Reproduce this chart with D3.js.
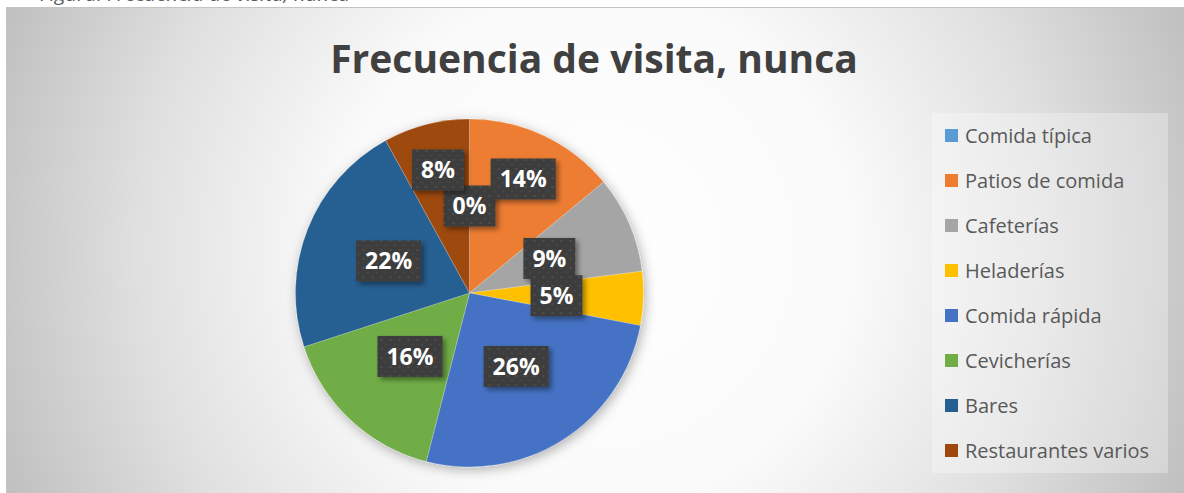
<!DOCTYPE html>
<html>
<head>
<meta charset="utf-8">
<script src="https://cdn.jsdelivr.net/npm/d3@7"></script>
<style>
  body { margin: 0; background: #fff; }
  svg { display: block; }
</style>
</head>
<body>
<div id="chart"></div>
<script>
// Datos del gráfico
const categorias = ["Comida típica", "Patios de comida", "Cafeterías", "Heladerías",
  "Comida rápida", "Cevicherías", "Bares", "Restaurantes varios"];
const valores = [0, 14, 9, 5, 26, 16, 22, 8];
const colores = ["#5B9BD5", "#ED7D31", "#A5A5A5", "#FFC000",
  "#4472C4", "#70AD47", "#255E91", "#9E480E"];
const titulo = "Frecuencia de visita, nunca";

const W = 1184, H = 493;
const cx = 469.5, cy = 293, R = 174;

const svg = d3.select("#chart").append("svg")
  .attr("width", W).attr("height", H);

const defs = svg.append("defs");

// Fondo con degradado radial
const grad = defs.append("radialGradient")
  .attr("id", "fondo")
  .attr("gradientUnits", "userSpaceOnUse")
  .attr("cx", 595).attr("cy", 250).attr("r", 650);
grad.append("stop").attr("offset", 0).attr("stop-color", "#ffffff");
grad.append("stop").attr("offset", 0.4).attr("stop-color", "#fafafa");
grad.append("stop").attr("offset", 0.7).attr("stop-color", "#e0e0e0");
grad.append("stop").attr("offset", 1).attr("stop-color", "#bdbdbd");

// Sombra del pastel
const sombra = defs.append("filter").attr("id", "sombra")
  .attr("x", "-20%").attr("y", "-20%").attr("width", "140%").attr("height", "140%");
sombra.append("feDropShadow").attr("dx", 2).attr("dy", 3)
  .attr("stdDeviation", 6).attr("flood-color", "#000").attr("flood-opacity", 0.3);

// Sombra de las etiquetas
const sombraEt = defs.append("filter").attr("id", "sombraEt")
  .attr("x", "-30%").attr("y", "-30%").attr("width", "160%").attr("height", "160%");
sombraEt.append("feDropShadow").attr("dx", 3).attr("dy", 3)
  .attr("stdDeviation", 2.5).attr("flood-color", "#000").attr("flood-opacity", 0.4);

// Textura punteada de las etiquetas
const pat = defs.append("pattern").attr("id", "puntos")
  .attr("patternUnits", "userSpaceOnUse").attr("width", 9).attr("height", 9);
pat.append("rect").attr("width", 9).attr("height", 9).attr("fill", "#3d3d3d");
pat.append("circle").attr("cx", 2).attr("cy", 2).attr("r", 0.9).attr("fill", "#555");
pat.append("circle").attr("cx", 6.5).attr("cy", 6.5).attr("r", 0.9).attr("fill", "#4c4c4c");

// Texto cortado arriba (pie de figura de la página)
svg.append("text")
  .attr("x", 40).attr("y", 1)
  .attr("textLength", 310).attr("lengthAdjust", "spacingAndGlyphs")
  .style("font-family", "'Open Sans', sans-serif")
  .style("font-style", "italic")
  .style("font-size", "18px")
  .style("fill", "#595959")
  .text("Figura. " + titulo);

// Área del gráfico
svg.append("rect")
  .attr("x", 6.5).attr("y", 7.5).attr("width", W - 6).attr("height", H - 7)
  .attr("fill", "url(#fondo)")
  .attr("stroke", "#c4c4c4").attr("stroke-width", 1);

// Título
svg.append("text")
  .attr("x", 594).attr("y", 73)
  .attr("text-anchor", "middle")
  .style("font-family", "'Open Sans', sans-serif")
  .style("font-weight", "bold")
  .style("font-size", "39px")
  .style("fill", "#404040")
  .text(titulo);

// Pastel
const total = d3.sum(valores);
const pie = d3.pie().sort(null).value(d => d)(valores);
const arc = d3.arc().innerRadius(0).outerRadius(R);
const arcEt = d3.arc().innerRadius(R * 0.5).outerRadius(R * 0.5);

const g = svg.append("g").attr("transform", `translate(${cx},${cy})`);

g.append("g").attr("filter", "url(#sombra)")
  .selectAll("path")
  .data(pie)
  .join("path")
  .attr("d", arc)
  .attr("fill", (d, i) => colores[i])
  .attr("stroke", "#ffffff")
  .attr("stroke-opacity", 0.35)
  .attr("stroke-width", 0.6);

// Etiquetas: posición en el centroide, empujadas hacia fuera si se solapan
const fmt = d3.format(".0%");
const labG = g.append("g");
const etiquetas = pie.map((d, i) => {
  const t = labG.append("text")
    .attr("text-anchor", "middle")
    .attr("dy", "0.36em")
    .style("font-family", "'Open Sans', sans-serif")
    .style("font-weight", "bold")
    .style("font-size", "23px")
    .style("fill", "#ffffff")
    .text(fmt(d.value / total));
  const w = t.node().getComputedTextLength() + 18;
  const h = 41;
  const [x, y] = arcEt.centroid(d);
  const a = (d.startAngle + d.endAngle) / 2;
  return { t, w, h, x, y, ux: Math.sin(a), uy: -Math.cos(a) };
});

const tol = 5;
function choca(p, q) {
  const ox = (p.w + q.w) / 2 - Math.abs(p.x - q.x);
  const oy = (p.h + q.h) / 2 - Math.abs(p.y - q.y);
  return ox > tol && oy > tol;
}
const colocadas = [];
etiquetas.forEach(p => {
  let n = 0;
  while (colocadas.some(q => choca(p, q)) && n < 200) {
    p.x += p.ux; p.y += p.uy; n++;
  }
  colocadas.push(p);
});

etiquetas.forEach(p => {
  labG.insert("rect", "text")
    .attr("x", p.x - p.w / 2).attr("y", p.y - p.h / 2)
    .attr("width", p.w).attr("height", p.h)
    .attr("fill", "url(#puntos)")
    .attr("filter", "url(#sombraEt)");
  p.t.attr("x", p.x).attr("y", p.y);
  p.t.raise();
});

// Leyenda
const leg = svg.append("g");
leg.append("rect")
  .attr("x", 932).attr("y", 113).attr("width", 236).attr("height", 360)
  .attr("fill", "#ffffff").attr("fill-opacity", 0.3);

const y0 = 136, paso = 45;
const item = leg.selectAll(".item")
  .data(categorias)
  .join("g")
  .attr("class", "item")
  .attr("transform", (d, i) => `translate(945,${y0 + i * paso})`);
item.append("rect")
  .attr("x", 0).attr("y", -7).attr("width", 13).attr("height", 13)
  .attr("fill", (d, i) => colores[i]);
item.append("text")
  .attr("x", 20).attr("dy", "0.35em")
  .style("font-family", "'Open Sans', sans-serif")
  .style("font-size", "20px")
  .style("fill", "#595959")
  .text(d => d);
</script>
</body>
</html>
